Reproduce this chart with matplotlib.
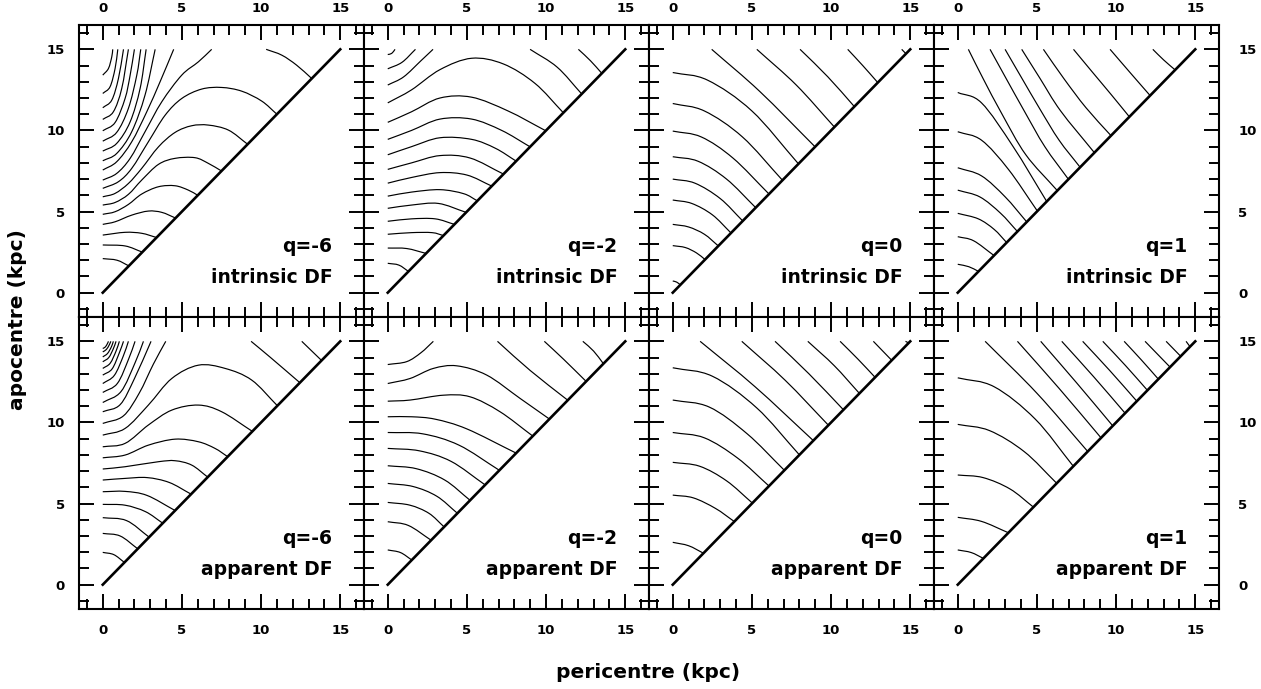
import numpy as np
import matplotlib.pyplot as plt
from matplotlib.ticker import MultipleLocator
from matplotlib.path import Path
from matplotlib.patches import PathPatch

plt.rcParams['font.family'] = 'DejaVu Sans'
plt.rcParams['font.weight'] = 'bold'

# contours of the DF, each one a list of (pericentre, apocentre) in kpc
# a contour cut by apo = 15 kpc is given as two pieces

q6_intrinsic = [
    [(0, 2.1), (0.9, 2.0), (1.65, 1.65)],
    [(0, 2.94), (1.41, 2.88), (2.5, 2.5)],
    [(0, 3.55), (1.41, 3.72), (2.46, 3.66), (3.4, 3.4)],
    [(0, 4.21), (0.78, 4.37), (1.83, 4.78), (2.88, 5.03), (3.73, 4.95), (4.6, 4.6)],
    [(0, 4.83), (0.78, 4.99), (1.62, 5.44), (2.46, 6.08), (3.52, 6.53), (4.57, 6.59),
     (5.41, 6.32), (6.0, 6.0)],
    [(0, 5.40), (0.78, 5.56), (1.62, 6.06), (2.46, 6.94), (3.52, 7.91), (4.57, 8.28),
     (5.83, 8.32), (6.67, 7.97), (7.5, 7.5)],
    [(0, 5.91), (0.78, 6.12), (1.62, 6.73), (2.46, 7.66), (3.52, 8.99), (4.57, 9.88),
     (5.62, 10.29), (6.67, 10.33), (7.94, 10.02), (9.15, 9.15)],
    [(0, 6.43), (0.99, 6.84), (1.83, 7.66), (2.88, 9.3), (3.94, 10.94), (4.99, 11.97),
     (6.25, 12.55), (7.51, 12.65), (8.78, 12.42), (10.04, 11.81), (11.0, 11.0)],
    [(0, 6.94), (0.88, 7.35), (1.73, 8.28), (2.67, 9.92), (3.73, 11.77), (4.99, 13.41),
     (6.04, 14.23), (6.88, 15.0)],
    [(10.32, 15.0), (11.31, 14.64), (12.25, 14.02), (13.2, 13.2)],
    [(0, 7.56), (0.88, 8.07), (1.83, 9.3), (2.78, 11.15), (3.62, 13.0), (4.48, 15.0)],
    [(0, 8.13), (0.88, 8.58), (1.83, 9.92), (2.67, 12.18), (3.31, 15.0)],
    [(0, 8.73), (0.88, 9.2), (1.73, 10.53), (2.36, 12.59), (2.74, 15.0)],
    [(0, 9.34), (0.88, 9.88), (1.62, 11.36), (2.15, 13.41), (2.4, 15.0)],
    [(0, 9.98), (0.78, 10.49), (1.41, 11.97), (1.73, 13.41), (2.0, 15.0)],
    [(0, 10.68), (0.67, 11.15), (1.2, 12.59), (1.62, 15.0)],
    [(0, 11.4), (0.57, 11.87), (0.99, 13.2), (1.31, 15.0)],
    [(0, 12.28), (0.46, 12.69), (0.78, 13.82), (0.95, 15.0)],
    [(0, 13.41), (0.36, 13.82), (0.57, 14.54), (0.63, 15.0)],
]

q2_intrinsic = [
    [(0, 1.81), (0.7, 1.7), (1.31, 1.31)],
    [(0, 2.75), (1.2, 2.72), (2.42, 2.42)],
    [(0, 3.6), (1.5, 3.7), (2.8, 3.7), (3.52, 3.52)],
    [(0, 4.4), (1.5, 4.55), (3.0, 4.55), (4.21, 4.21)],
    [(0, 5.2), (1.5, 5.4), (3.2, 5.5), (4.95, 4.95)],
    [(0, 5.95), (1.5, 6.2), (3.3, 6.35), (4.8, 6.1), (5.66, 5.66)],
    [(0, 6.75), (1.5, 7.1), (3.3, 7.4), (5.0, 7.25), (6.57, 6.57)],
    [(0, 7.6), (1.5, 8.0), (3.3, 8.45), (5.2, 8.3), (7.31, 7.31)],
    [(0, 8.5), (1.5, 9.0), (3.3, 9.55), (5.3, 9.45), (6.8, 8.9), (8.11, 8.11)],
    [(0, 9.45), (1.5, 10.0), (3.3, 10.7), (5.3, 10.7), (7.2, 10.0), (8.99, 8.99)],
    [(0, 10.5), (1.5, 11.15), (3.3, 12.0), (5.3, 12.05), (7.6, 11.2), (9.98, 9.98)],
    [(0, 11.7), (1.5, 12.5), (3.3, 13.75), (5.3, 14.45), (7.3, 14.1), (9.3, 12.9),
     (11.09, 11.09)],
    [(0, 12.8), (1.0, 13.3), (2.1, 14.3), (2.86, 15.0)],
    [(8.99, 15.0), (10.7, 13.9), (12.25, 12.25)],
    [(0, 13.8), (0.9, 14.2), (1.75, 15.0)],
    [(12.04, 15.0), (12.8, 14.3), (13.52, 13.52)],
    [(0, 14.68), (0.25, 14.75), (0.46, 15.0)],
]

q0_intrinsic = [
    [(0, 0.72), (0.25, 0.65), (0.48, 0.48)],
    [(0, 2.9), (0.8, 2.78), (1.5, 2.45), (2.04, 2.04)],
    [(0, 4.21), (1.0, 4.05), (2.0, 3.6), (2.88, 2.88)],
    [(0, 5.71), (1.2, 5.5), (2.5, 4.8), (3.68, 3.68)],
    [(0, 7.0), (1.4, 6.75), (3.0, 5.8), (4.42, 4.42)],
    [(0, 8.38), (1.6, 8.1), (3.4, 7.0), (5.24, 5.24)],
    [(0, 9.96), (1.8, 9.6), (3.8, 8.3), (6.08, 6.08)],
    [(0, 11.66), (2.0, 11.2), (4.4, 9.6), (6.93, 6.93)],
    [(0, 13.57), (2.2, 13.1), (5.0, 11.2), (7.94, 7.94)],
    [(2.46, 15.0), (5.5, 12.4), (8.99, 8.99)],
    [(5.31, 15.0), (7.8, 12.8), (10.21, 10.21)],
    [(8.04, 15.0), (9.8, 13.3), (11.47, 11.47)],
    [(11.05, 15.0), (12.0, 14.0), (12.95, 12.95)],
    [(14.46, 15.0), (14.73, 14.73)],
]

q1_intrinsic = [
    [(0, 1.75), (0.7, 1.6), (1.31, 1.31)],
    [(0, 3.45), (1.0, 3.2), (2.29, 2.29)],
    [(0, 4.89), (1.3, 4.55), (2.3, 3.9), (3.09, 3.09)],
    [(0, 6.32), (1.4, 5.9), (2.7, 4.9), (3.77, 3.77)],
    [(0, 7.7), (1.5, 7.2), (3.0, 5.9), (4.36, 4.36)],
    [(0, 9.92), (1.5, 9.4), (3.2, 7.6), (5.03, 5.03)],
    [(0, 12.34), (1.5, 11.7), (3.5, 9.0), (5.62, 5.62)],
    [(0.67, 15.0), (1.6, 13.2), (2.8, 11.0), (4.3, 8.5), (6.29, 6.29)],
    [(2.04, 15.0), (3.0, 13.3), (4.2, 11.2), (5.5, 9.0), (6.99, 6.99)],
    [(2.99, 15.0), (4.0, 13.3), (5.2, 11.3), (6.4, 9.4), (7.73, 7.73)],
    [(4.04, 15.0), (5.2, 13.2), (6.5, 11.2), (8.63, 8.63)],
    [(5.41, 15.0), (6.7, 13.2), (8.1, 11.4), (9.68, 9.68)],
    [(7.31, 15.0), (8.5, 13.6), (9.7, 12.2), (10.84, 10.84)],
    [(9.62, 15.0), (10.9, 13.55), (12.15, 12.15)],
    [(12.32, 15.0), (13.0, 14.35), (13.73, 13.73)],
]

q6_apparent = [
    [(0, 1.99), (0.7, 1.85), (1.37, 1.37)],
    [(0, 3.16), (1.1, 3.0), (2.21, 2.21)],
    [(0, 4.13), (1.5, 3.95), (2.93, 2.93)],
    [(0, 4.95), (1.4, 4.9), (2.7, 4.5), (3.79, 3.79)],
    [(0, 5.73), (1.4, 5.75), (2.8, 5.5), (4.57, 4.57)],
    [(0, 6.45), (1.4, 6.55), (2.8, 6.6), (4.2, 6.3), (5.58, 5.58)],
    [(0, 7.13), (1.41, 7.27), (3.52, 7.58), (4.57, 7.64), (5.62, 7.37), (6.63, 6.63)],
    [(0, 7.82), (1.41, 7.99), (2.88, 8.6), (4.57, 8.97), (6.04, 8.81), (7.09, 8.4),
     (7.89, 7.89)],
    [(0, 8.5), (1.41, 8.71), (2.88, 9.84), (4.36, 10.76), (6.04, 11.07), (7.51, 10.66),
     (9.45, 9.45)],
    [(0, 9.22), (1.41, 9.63), (2.88, 11.07), (4.36, 12.71), (6.04, 13.53), (7.73, 13.33),
     (9.41, 12.61), (11.03, 11.03)],
    [(0, 9.94), (1.3, 10.4), (2.3, 11.8), (3.2, 13.6), (3.98, 15.0)],
    [(9.37, 15.0), (10.6, 14.0), (12.45, 12.45)],
    [(0, 10.66), (1.1, 11.1), (2.0, 12.7), (3.05, 15.0)],
    [(12.57, 15.0), (13.82, 13.82)],
    [(0, 11.23), (1.15, 11.9), (2.05, 13.7), (2.57, 15.0)],
    [(0, 11.85), (0.92, 12.4), (1.63, 13.9), (2.04, 15.0)],
    [(0, 12.4), (0.73, 12.9), (1.3, 14.1), (1.62, 15.0)],
    [(0, 12.92), (0.59, 13.3), (1.05, 14.3), (1.31, 15.0)],
    [(0, 13.33), (0.47, 13.65), (0.84, 14.4), (1.05, 15.0)],
    [(0, 13.74), (0.38, 14.0), (0.67, 14.55), (0.84, 15.0)],
    [(0, 14.04), (0.3, 14.25), (0.54, 14.65), (0.67, 15.0)],
    [(0, 14.35), (0.23, 14.5), (0.41, 14.78), (0.51, 15.0)],
    [(0, 14.56), (0.16, 14.65), (0.29, 14.85), (0.36, 15.0)],
]

q2_apparent = [
    [(0, 2.14), (0.8, 1.98), (1.52, 1.52)],
    [(0, 3.88), (1.3, 3.65), (2.74, 2.74)],
    [(0, 5.07), (1.4, 4.9), (2.6, 4.4), (3.56, 3.56)],
    [(0, 6.24), (1.6, 6.05), (3.1, 5.45), (4.4, 4.4)],
    [(0, 7.33), (1.8, 7.15), (3.6, 6.45), (5.2, 5.2)],
    [(0, 8.4), (2.0, 8.25), (4.0, 7.6), (6.15, 6.15)],
    [(0, 9.38), (2.2, 9.3), (4.5, 8.6), (7.05, 7.05)],
    [(0, 10.35), (1.5, 10.35), (3.0, 10.2), (5.0, 9.6), (8.11, 8.11)],
    [(0, 11.31), (1.41, 11.38), (3.52, 11.68), (5.2, 11.58), (7.09, 10.66), (9.16, 9.16)],
    [(0, 12.4), (1.41, 12.71), (2.88, 13.33), (4.36, 13.49), (6.25, 12.92), (8.36, 11.48),
     (10.21, 10.21)],
    [(0, 13.57), (1.2, 13.75), (2.1, 14.3), (2.88, 15.0)],
    [(6.93, 15.0), (9.0, 13.2), (11.37, 11.37)],
    [(9.89, 15.0), (11.1, 13.9), (12.53, 12.53)],
    [(12.32, 15.0), (13.0, 14.4), (13.62, 13.62)],
]

q0_apparent = [
    [(0, 2.61), (1.0, 2.4), (1.94, 1.94)],
    [(0, 5.52), (1.3, 5.35), (2.7, 4.7), (3.89, 3.89)],
    [(0, 7.54), (1.7, 7.3), (3.4, 6.4), (5.03, 5.03)],
    [(0, 9.38), (2.0, 9.05), (4.1, 7.8), (6.08, 6.08)],
    [(0, 11.38), (2.3, 10.95), (4.7, 9.3), (7.05, 7.05)],
    [(0, 13.37), (2.5, 12.85), (5.3, 10.9), (8.0, 8.0)],
    [(1.73, 15.0), (5.2, 12.2), (8.88, 8.88)],
    [(4.36, 15.0), (7.1, 12.6), (9.83, 9.83)],
    [(6.46, 15.0), (8.6, 13.0), (10.78, 10.78)],
    [(8.53, 15.0), (10.2, 13.5), (11.79, 11.79)],
    [(10.57, 15.0), (11.7, 13.9), (12.78, 12.78)],
    [(12.67, 15.0), (13.83, 13.83)],
    [(14.7, 15.0), (14.9, 14.9)],
]

q1_apparent = [
    [(0, 2.14), (0.85, 1.98), (1.62, 1.62)],
    [(0, 4.15), (1.5, 3.9), (3.2, 3.2)],
    [(0, 6.76), (1.6, 6.6), (3.3, 5.9), (4.78, 4.78)],
    [(0, 9.88), (2.0, 9.5), (4.2, 8.2), (6.25, 6.25)],
    [(0, 12.75), (2.3, 12.2), (4.9, 10.2), (7.3, 7.3)],
    [(1.73, 15.0), (5.0, 11.8), (8.21, 8.21)],
    [(3.77, 15.0), (6.4, 12.1), (9.05, 9.05)],
    [(5.24, 15.0), (7.5, 12.45), (9.79, 9.79)],
    [(6.57, 15.0), (8.6, 12.8), (10.57, 10.57)],
    [(7.89, 15.0), (9.6, 13.2), (11.31, 11.31)],
    [(9.16, 15.0), (10.6, 13.5), (11.98, 11.98)],
    [(10.51, 15.0), (11.6, 13.85), (12.67, 12.67)],
    [(11.83, 15.0), (13.41, 13.41)],
    [(13.16, 15.0), (14.08, 14.08)],
    [(14.42, 15.0), (14.67, 14.67)],
]

q_labels = ['q=-6', 'q=-2', 'q=0', 'q=1']
df_labels = ['intrinsic DF', 'apparent DF']
panel_data = [q6_intrinsic, q2_intrinsic, q0_intrinsic, q1_intrinsic,
              q6_apparent, q2_apparent, q0_apparent, q1_apparent]
circular = [0, 15]  # peri = apo line


def contour_path(pts):
    # smooth curve through the read points (Catmull-Rom as cubic Bezier)
    p = np.asarray(pts, dtype=float)
    if len(p) < 3:
        return Path(p)
    ext = np.vstack([2 * p[0] - p[1], p, 2 * p[-1] - p[-2]])
    verts = [p[0]]
    codes = [Path.MOVETO]
    for k in range(len(p) - 1):
        a, b, c, d = ext[k], ext[k + 1], ext[k + 2], ext[k + 3]
        verts += [b + (c - a) / 6, c - (d - b) / 6, c]
        codes += [Path.CURVE4] * 3
    return Path(verts, codes)


W, H = 1261, 689
fig = plt.figure(figsize=(W / 100, H / 100), dpi=100)
x0, y0 = 79 / W, 1 - 609 / H
pw, ph = 285 / W, 292 / H

for i, contours in enumerate(panel_data):
    row, col = divmod(i, 4)
    ax = fig.add_axes([x0 + col * pw, y0 + (1 - row) * ph, pw, ph])
    for c in contours:
        ax.add_patch(PathPatch(contour_path(c), fill=False, ec='k', lw=0.85))
    ax.plot(circular, circular, color='k', lw=1.9)

    ax.set_xlim(-1.5, 16.5)
    ax.set_ylim(-1.5, 16.5)
    ax.xaxis.set_major_locator(MultipleLocator(5))
    ax.xaxis.set_minor_locator(MultipleLocator(1))
    ax.yaxis.set_major_locator(MultipleLocator(5))
    ax.yaxis.set_minor_locator(MultipleLocator(1))
    ax.tick_params(which='both', direction='in', top=True, right=True,
                   bottom=True, left=True, width=1.4, labelsize=9.5,
                   labeltop=(row == 0), labelbottom=(row == 1),
                   labelleft=(col == 0), labelright=(col == 3))
    ax.tick_params(which='major', length=10.5)
    ax.tick_params(which='minor', length=7)
    ax.tick_params(axis='x', which='major', pad=7 if row == 0 else 11)
    ax.tick_params(axis='y', which='major', pad=10 if col == 0 else 14)
    for s in ax.spines.values():
        s.set_linewidth(1.5)
    for lab in ax.get_xticklabels() + ax.get_yticklabels():
        lab.set_fontweight('bold')

    ax.text(14.5, 2.85, q_labels[col], ha='right', va='center',
            fontsize=13.5, fontweight='bold')
    ax.text(14.5, 0.95, df_labels[row], ha='right', va='center',
            fontsize=13.5, fontweight='bold')

fig.text(18 / W, 1 - 320 / H, 'apocentre (kpc)', rotation=90,
         ha='center', va='center', fontsize=14.5, fontweight='bold')
fig.text(648 / W, 1 - 673 / H, 'pericentre (kpc)',
         ha='center', va='center', fontsize=14.5, fontweight='bold')

fig.savefig('out.png', dpi=100)
